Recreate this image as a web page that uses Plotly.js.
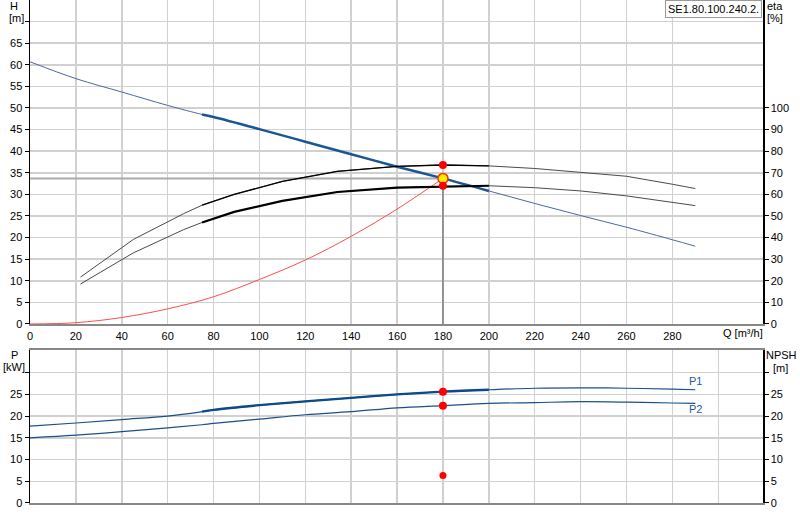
<!DOCTYPE html>
<html><head><meta charset="utf-8">
<script src="https://cdn.plot.ly/plotly-3.0.1.min.js"></script>
<style>html,body{margin:0;padding:0;background:#fff}</style>
</head><body><div id="chart" style="width:800px;height:520px"></div>
<script>
// Pump head curve H [m] vs Q [m3/h]
const qH = [0,20,40,60,75,80,100,120,140,160,180,200,220,240,260,280,290];
const hH = [60.7,56.8,53.7,50.6,48.5,47.9,45.1,42.2,39.3,36.4,33.7,30.8,27.9,25.1,22.4,19.5,18.0];
// Efficiency curves eta [%]
const qEta = [22,45,67,75,89,110,134,160,180,200,220,240,260,280,290];
const eta1 = [21.7,39.1,51.1,55.0,60.0,66.0,70.7,73.0,73.6,73.2,72.0,70.3,68.4,64.7,62.7];
const eta2 = [18.5,32.9,43.7,47.0,51.9,57.0,61.1,63.1,63.7,64.0,63.1,61.6,59.3,56.5,54.8];
// System curve
const qSys = [0,20,40,60,80,100,120,140,160,180];
const hSys = [0,0.3,1.5,3.5,6.3,10.3,14.8,20.3,26.6,33.7];
// Power curves P [kW]
const qP = [0,20,40,60,75,80,100,120,140,160,180,200,220,240,260,280,290];
const p1 = [17.7,18.4,19.2,20.0,21.0,21.4,22.5,23.4,24.2,25.0,25.6,26.05,26.4,26.5,26.4,26.2,26.05];
const p2 = [15.0,15.6,16.4,17.3,18.0,18.3,19.3,20.3,21.0,21.9,22.4,22.9,23.1,23.3,23.2,23.0,22.9];
// Duty point
const opQ = 180, opH = 33.7;
const opEta = [73.6, 64.0];
const opP = [25.6, 22.4];
const opNPSH = 6.3;
const opRange = [75, 200];
// Tick labels
const xTicks = [0,20,40,60,80,100,120,140,160,180,200,220,240,260,280];
const hTicks = [0,5,10,15,20,25,30,35,40,45,50,55,60,65,70];
const etaTicks = [0,10,20,30,40,50,60,70,80,90,100];
const pTicks = [0,5,10,15,20,25,30];
const productName = 'SE1.80.100.240.2.';

function seg(xs, ys) {
  const X = [], Y = [];
  xs.forEach((x, i) => { if (x >= opRange[0] && x <= opRange[1]) { X.push(x); Y.push(ys[i]); } });
  return [X, Y];
}
const [hxT, hyT] = seg(qH, hH);
const [e1x, e1y] = seg(qEta, eta1);
const [e2x, e2y] = seg(qEta, eta2);
const [p1x, p1y] = seg(qP, p1);

const F = 'Arial, "Liberation Sans", sans-serif';
const traces = [
  {x:[0,opQ], y:[opH,opH], xaxis:'x', yaxis:'y', mode:'lines', line:{color:'#aaaaaa', width:2}},
  {x:[opQ,opQ], y:[0,opH], xaxis:'x', yaxis:'y', mode:'lines', line:{color:'#808080', width:1.5}},
  {x:qSys, y:hSys, xaxis:'x', yaxis:'y', mode:'lines', line:{color:'#ff4d4d', width:1, shape:'spline'}},
  {x:qH, y:hH, xaxis:'x', yaxis:'y', mode:'lines', line:{color:'#4a68a0', width:1, shape:'spline'}},
  {x:hxT, y:hyT, xaxis:'x', yaxis:'y', mode:'lines', line:{color:'#1a5694', width:2.5, shape:'spline'}},
  {x:qEta, y:eta1, xaxis:'x', yaxis:'y2', mode:'lines', line:{color:'#4a4a4a', width:1}},
  {x:e1x, y:e1y, xaxis:'x', yaxis:'y2', mode:'lines', line:{color:'#000000', width:1.3}},
  {x:qEta, y:eta2, xaxis:'x', yaxis:'y2', mode:'lines', line:{color:'#4a4a4a', width:1}},
  {x:e2x, y:e2y, xaxis:'x', yaxis:'y2', mode:'lines', line:{color:'#000000', width:2.2}},
  {x:[opQ,opQ], y:opEta, xaxis:'x', yaxis:'y2', mode:'markers', marker:{color:'#ff0000', size:8}},
  {x:[opQ], y:[opH], xaxis:'x', yaxis:'y', mode:'markers', marker:{color:'#ffee00', size:10, line:{color:'#ff3000', width:1.5}}},
  {x:qP, y:p1, xaxis:'x2', yaxis:'y3', mode:'lines', line:{color:'#1a4f8a', width:1.2, shape:'spline'}},
  {x:p1x, y:p1y, xaxis:'x2', yaxis:'y3', mode:'lines', line:{color:'#0d4a8a', width:2.3, shape:'spline'}},
  {x:qP, y:p2, xaxis:'x2', yaxis:'y3', mode:'lines', line:{color:'#1a4f8a', width:1.2, shape:'spline'}},
  {x:[opQ,opQ], y:opP, xaxis:'x2', yaxis:'y3', mode:'markers', marker:{color:'#ff0000', size:8}},
  {x:[opQ], y:[opNPSH], xaxis:'x2', yaxis:'y4', mode:'markers', marker:{color:'#ff0000', size:7}}
];

const tickF = {family:F, size:11, color:'#000'};
const grid = '#d0d0d0';
function ann(text, px, py, opts) {
  return Object.assign({text:text, xref:'paper', yref:'paper', x:(px-30)/733, y:(503-py)/503,
    showarrow:false, font:{family:F, size:11, color:'#000'}, xanchor:'center', yanchor:'middle'}, opts||{});
}
const layout = {
  width:800, height:520, margin:{l:30, r:37, t:0, b:17},
  paper_bgcolor:'#fff', plot_bgcolor:'#fff', showlegend:false,
  xaxis:{anchor:'y', range:[0,319.5], tickvals:xTicks, ticktext:xTicks.map(String), showgrid:true, gridcolor:grid, gridwidth:1.5,
    zeroline:false, showline:true, linecolor:'#888', linewidth:2, ticks:'', tickfont:tickF, ticklabelstandoff:1},
  xaxis2:{anchor:'y3', matches:'x', range:[0,319.5], tickvals:[0,20,40,60,80,100,120,140,160,180,200,220,240,260,280,300],
    showticklabels:false, showgrid:true, gridcolor:grid, gridwidth:1.5, zeroline:false, showline:true, linecolor:'#888', linewidth:2, mirror:true, ticks:''},
  yaxis:{domain:[0.3559,1], anchor:'x', range:[0,75], tickvals:hTicks, ticktext:hTicks.map(v => v===70 ? '' : String(v)),
    showgrid:true, gridcolor:grid, gridwidth:1.5, zeroline:false, showline:true, linecolor:'#000', linewidth:1.5,
    ticks:'outside', ticklen:4, tickcolor:'#000', tickfont:tickF},
  yaxis2:{overlaying:'y', side:'right', anchor:'x', range:[0,150], tickvals:etaTicks, showgrid:false, zeroline:false,
    showline:true, linecolor:'#000', linewidth:1.5, ticks:'outside', ticklen:4, tickcolor:'#000', tickfont:tickF},
  yaxis3:{domain:[0,0.3042], anchor:'x2', range:[0,35.2], tickvals:pTicks, ticktext:pTicks.map(v => v===30 ? '' : String(v)),
    showgrid:true, gridcolor:grid, gridwidth:1.5, zeroline:false, showline:true, linecolor:'#000', linewidth:1.5,
    ticks:'outside', ticklen:4, tickcolor:'#000', tickfont:tickF},
  yaxis4:{overlaying:'y3', side:'right', anchor:'x2', range:[0,35.2], tickvals:pTicks, ticktext:pTicks.map(v => v===30 ? '' : String(v)),
    showgrid:false, zeroline:false, showline:true, linecolor:'#000', linewidth:1.5, ticks:'outside', ticklen:4, tickcolor:'#000', tickfont:tickF},
  annotations:[
    ann('H', 14, 6), ann('[m]', 16, 18),
    ann('eta', 775, 6), ann('[%]', 775, 18),
    ann('P', 15, 355), ann('[kW]', 14, 367),
    ann('NPSH', 781, 355), ann('[m]', 780, 368),
    ann('Q [m³/h]', 721, 333, {xanchor:'left'}),
    ann('P1', 695, 381, {font:{family:F, size:11, color:'#1f5a9a'}}),
    ann('P2', 695, 409, {font:{family:F, size:11, color:'#1f5a9a'}}),
    ann(productName, 762, 0, {xanchor:'right', yanchor:'top', bgcolor:'#fff', bordercolor:'#999', borderwidth:1, borderpad:2})
  ]
};
Plotly.newPlot('chart', traces, layout, {staticPlot:true, displayModeBar:false});
</script></body></html>
